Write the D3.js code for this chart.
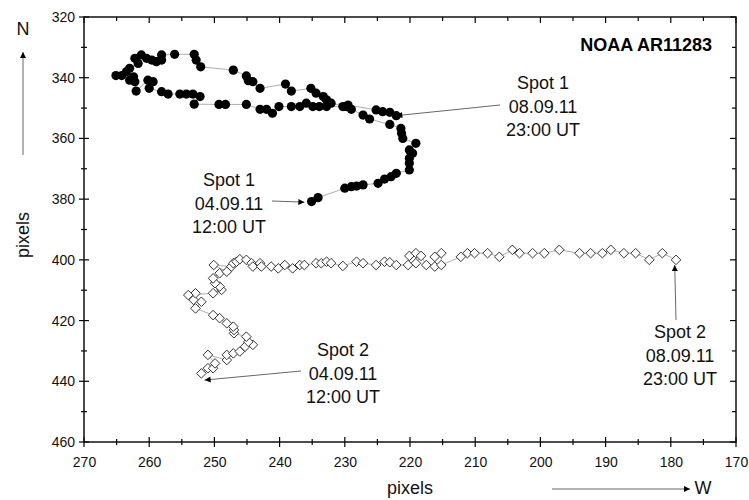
<!DOCTYPE html>
<html><head><meta charset="utf-8">
<script src="https://cdn.jsdelivr.net/npm/d3@7"></script>
<style>body{margin:0;background:#fff}svg{display:block}text{font-family:"Liberation Sans",Arial,sans-serif}</style>
</head><body><svg id="c" width="749" height="500"></svg>
<script>
// Spot 1 track (x, y in pixels), time-ordered from 04.09.11 12:00 UT to 08.09.11 23:00 UT
const spot1X = [235.1,234.1,230.0,229.0,228.2,227.2,224.9,223.9,222.9,222.1,220.1,220.1,220.1,219.6,220.1,219.1,221.1,221.3,221.4,223.1,226.2,227.2,229.0,229.8,232.1,232.8,233.3,234.4,235.2,238.2,239.1,243.0,244.1,244.8,245.1,247.1,252.1,252.8,253.1,256.1,258.1,258.1,258.9,259.6,260.4,261.2,262.2,261.7,263.0,263.5,264.2,265.1,262.4,263.0,262.2,262.0,260.2,259.4,260.0,258.1,257.1,255.3,254.3,253.3,252.2,253.1,249.3,248.3,245.1,243.0,242.0,241.1,240.1,238.2,236.9,235.9,234.9,233.9,232.8,230.3,229.5,225.2,224.2,223.1,222.1];
const spot1Y = [380.8,379.5,376.4,375.9,375.7,375.3,374.8,373.4,372.6,371.5,370.4,368.2,366.5,364.9,363.8,361.6,360.0,358.3,356.7,355.4,353.6,352.3,350.4,349.5,348.4,347.3,346.2,345.1,343.5,344.4,342.1,343.5,341.3,341.0,339.4,337.5,336.4,334.2,332.3,332.3,332.5,334.2,334.7,334.2,333.6,332.5,333.6,335.3,336.9,338.0,339.3,339.3,339.7,340.8,341.3,344.4,340.8,341.3,343.5,344.6,345.4,345.4,345.4,345.4,346.2,348.7,348.8,348.8,348.8,350.4,350.4,351.7,349.5,349.5,349.5,348.4,349.5,349.5,349.5,349.5,349.0,350.6,351.2,351.4,352.5];
// Spot 2 track
const spot2X = [252.0,251.0,250.2,249.9,251.0,248.1,248.1,247.1,246.1,245.3,244.1,244.8,245.1,247.0,247.0,247.1,248.1,249.2,250.2,252.9,252.0,253.2,252.9,254.0,250.2,248.9,249.2,249.9,250.2,249.2,248.1,250.1,247.4,247.1,246.6,246.1,245.1,244.3,244.1,243.0,242.8,241.3,240.2,239.2,238.0,236.9,236.2,234.4,233.6,232.8,232.1,230.3,228.2,227.2,225.2,223.9,223.1,222.1,220.3,220.1,219.1,219.1,218.3,217.5,216.2,216.2,215.2,215.2,212.2,211.2,210.1,208.1,206.3,204.3,203.2,201.2,199.4,197.1,194.0,192.3,190.5,189.2,187.2,185.4,183.3,181.3,179.2];
const spot2Y = [437.4,435.7,435.7,434.1,431.3,433.0,431.3,430.8,430.2,428.6,428.0,427.0,425.3,424.2,423.1,422.0,420.9,419.2,418.2,416.0,413.8,413.2,411.0,411.6,411.0,409.9,408.8,407.7,406.1,404.4,403.9,401.7,402.2,401.1,400.6,399.8,400.0,401.1,402.2,401.1,402.2,402.2,402.8,401.7,402.8,401.7,401.7,401.1,401.1,400.6,401.1,402.0,400.6,401.1,401.7,400.6,400.8,401.7,401.7,398.7,397.8,401.1,398.7,401.7,402.2,399.0,397.8,401.7,399.0,397.8,397.8,397.8,399.0,396.7,397.8,397.8,397.8,396.7,397.8,397.8,397.8,396.7,397.8,397.8,400.0,397.8,400.0];
const xTicks = [270,260,250,240,230,220,210,200,190,180,170];
const yTicks = [320,340,360,380,400,420,440,460];
const title = "NOAA AR11283";
const labels = [
  {lines:["Spot 1","08.09.11","23:00 UT"], to:[222.1,352.5]},
  {lines:["Spot 1","04.09.11","12:00 UT"], to:[236.2,381.0]},
  {lines:["Spot 2","04.09.11","12:00 UT"], to:[251.5,439.6]},
  {lines:["Spot 2","08.09.11","23:00 UT"], to:[179.4,401.7]}
];

const svg = d3.select("#c");
const L=84,R=736,T=17,B=442;
const x = d3.scaleLinear().domain([270,170]).range([L,R]);
const y = d3.scaleLinear().domain([320,460]).range([T,B]);

const defs = svg.append("defs");
defs.append("marker").attr("id","ah").attr("viewBox","0 0 10 10").attr("refX",10).attr("refY",5)
  .attr("markerWidth",10).attr("markerHeight",6).attr("markerUnits","userSpaceOnUse").attr("orient","auto")
  .append("path").attr("d","M0,0L10,5L0,10Z").attr("fill","#000");

// axes
const minorX = d3.range(265,170,-10);
const minorY = d3.range(330,460,20);
const g = svg.append("g");
const bottom = d3.axisBottom(x).tickValues(xTicks).tickSize(0).tickPadding(15);
g.append("g").attr("transform",`translate(0,${B})`).call(bottom).call(s=>{s.select(".domain").remove();s.selectAll("text").attr("font-size",14).attr("fill","#111");});
const left = d3.axisLeft(y).tickValues(yTicks).tickSize(0).tickPadding(9);
g.append("g").attr("transform",`translate(${L},0)`).call(left).call(s=>{s.select(".domain").remove();s.selectAll("text").attr("font-size",14).attr("fill","#111");});

const tk = svg.append("g").attr("stroke","#000").attr("stroke-width",1.2);
xTicks.forEach(v=>{tk.append("line").attr("x1",x(v)).attr("x2",x(v)).attr("y1",B-5).attr("y2",B+5);
  tk.append("line").attr("x1",x(v)).attr("x2",x(v)).attr("y1",T).attr("y2",T+6);});
minorX.forEach(v=>{tk.append("line").attr("x1",x(v)).attr("x2",x(v)).attr("y1",B-3).attr("y2",B+3);
  tk.append("line").attr("x1",x(v)).attr("x2",x(v)).attr("y1",T).attr("y2",T+4);});
yTicks.forEach(v=>{tk.append("line").attr("y1",y(v)).attr("y2",y(v)).attr("x1",L-5).attr("x2",L+5);
  tk.append("line").attr("y1",y(v)).attr("y2",y(v)).attr("x1",R-6).attr("x2",R);});
minorY.forEach(v=>{tk.append("line").attr("y1",y(v)).attr("y2",y(v)).attr("x1",L-3).attr("x2",L+3);
  tk.append("line").attr("y1",y(v)).attr("y2",y(v)).attr("x1",R-4).attr("x2",R);});
svg.append("rect").attr("x",L).attr("y",T).attr("width",R-L).attr("height",B-T).attr("fill","none").attr("stroke","#111").attr("stroke-width",1.5);

// tracks
const line = d3.line().x(d=>x(d[0])).y(d=>y(d[1]));
const s1 = spot1X.map((v,i)=>[v,spot1Y[i]]);
const s2 = spot2X.map((v,i)=>[v,spot2Y[i]]);
svg.append("path").attr("d",line(s1)).attr("fill","none").attr("stroke","#999").attr("stroke-width",0.8);
svg.append("path").attr("d",line(s2)).attr("fill","none").attr("stroke","#999").attr("stroke-width",0.8);
svg.append("g").selectAll("circle").data(s1).join("circle").attr("cx",d=>x(d[0])).attr("cy",d=>y(d[1])).attr("r",4.6).attr("fill","#000");
svg.append("g").selectAll("path").data(s2).join("path")
  .attr("d",d=>{const cx=x(d[0]),cy=y(d[1]),h=4.8;return `M${cx},${cy-h}L${cx+h},${cy}L${cx},${cy+h}L${cx-h},${cy}Z`;})
  .attr("fill","#fff").attr("stroke","#333").attr("stroke-width",1);

// annotations (text block first baseline, arrow tail)
const textPos = [[543,89],[229,186],[343,356],[680,338]];
const tails = [[500,105],[272,201],[301,371],[676,320]];
labels.forEach((lb,i)=>{
  const [tx,ty]=textPos[i];
  const t = svg.append("text").attr("text-anchor","middle").attr("font-size",18).attr("fill","#111");
  lb.lines.forEach((s,j)=>t.append("tspan").attr("x",tx).attr("y",ty+j*23.5).text(s));
  svg.append("line").attr("x1",tails[i][0]).attr("y1",tails[i][1]).attr("x2",x(lb.to[0])).attr("y2",y(lb.to[1]))
    .attr("stroke","#555").attr("stroke-width",0.9).attr("marker-end","url(#ah)");
});
svg.append("text").attr("x",712).attr("y",51).attr("text-anchor","end").attr("font-size",18).attr("font-weight","bold").attr("fill","#000").text(title);

// axis titles and direction arrows
svg.append("text").attr("x",410).attr("y",494).attr("text-anchor","middle").attr("font-size",18).attr("fill","#111").text("pixels");
svg.append("text").attr("transform","translate(29,235) rotate(-90)").attr("text-anchor","middle").attr("font-size",18).attr("fill","#111").text("pixels");
svg.append("text").attr("x",23).attr("y",35).attr("text-anchor","middle").attr("font-size",18).attr("fill","#111").text("N");
svg.append("line").attr("x1",23).attr("y1",155).attr("x2",23).attr("y2",52).attr("stroke","#555").attr("stroke-width",0.9).attr("marker-end","url(#ah)");
svg.append("text").attr("x",703).attr("y",494).attr("text-anchor","middle").attr("font-size",18).attr("fill","#111").text("W");
svg.append("line").attr("x1",552).attr("y1",489).attr("x2",690).attr("y2",489).attr("stroke","#555").attr("stroke-width",0.9).attr("marker-end","url(#ah)");
</script></body></html>
